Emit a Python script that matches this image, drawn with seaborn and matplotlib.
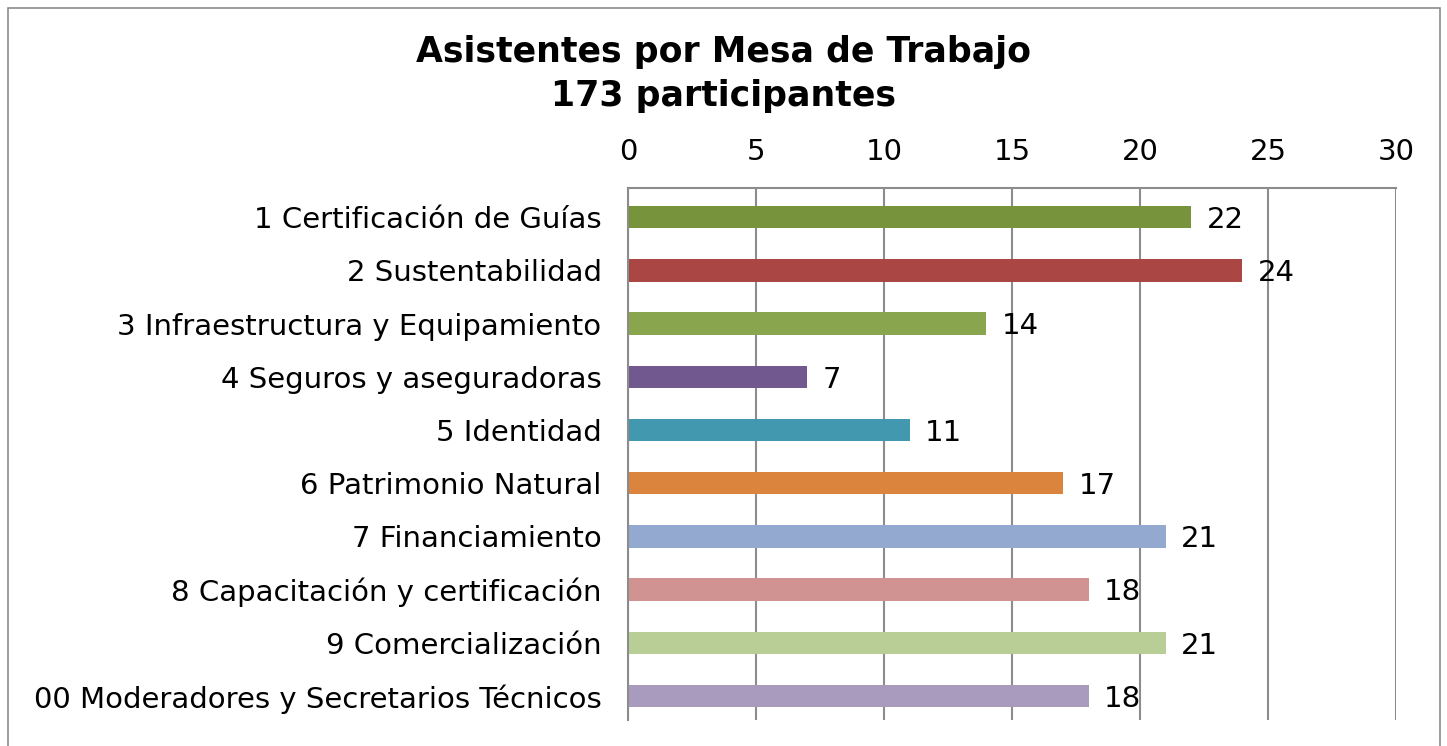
import pandas as pd
import matplotlib.pyplot as plt
import seaborn as sns
from matplotlib.patches import Rectangle

# Data
mesas = [
    "1 Certificación de Guías",
    "2 Sustentabilidad",
    "3 Infraestructura y Equipamiento",
    "4 Seguros y aseguradoras",
    "5 Identidad",
    "6 Patrimonio Natural",
    "7 Financiamiento",
    "8 Capacitación y certificación",
    "9 Comercialización",
    "00 Moderadores y Secretarios Técnicos",
]
asistentes = [22, 24, 14, 7, 11, 17, 21, 18, 21, 18]
colores = ["#77933C", "#AA4644", "#89A54E", "#71588F", "#4198AF",
           "#DB843D", "#93A9CF", "#D19392", "#B9CD96", "#A99BBD"]

df = pd.DataFrame({"mesa": mesas, "asistentes": asistentes})

sns.set_style("white")
plt.rcParams["font.family"] = ["DejaVu Sans"]
plt.rcParams["text.color"] = "black"
plt.rcParams["xtick.color"] = "black"
plt.rcParams["ytick.color"] = "black"

fs = 21

fig = plt.figure(figsize=(14.47, 7.46), dpi=100)
ax = fig.add_axes([628 / 1447, 1 - 720 / 746, 768 / 1447, 532 / 746])

sns.barplot(data=df, x="asistentes", y="mesa", hue="mesa", palette=colores,
            legend=False, width=0.42, saturation=1, linewidth=0, ax=ax)

ax.set_xlim(0, 30)
ax.set_ylim(9.45, -0.55)
ax.set_xticks(range(0, 31, 5))
ax.xaxis.tick_top()
ax.tick_params(axis="x", length=0, pad=16, labelsize=fs)
ax.tick_params(axis="y", length=0, pad=19, labelsize=fs)
ax.set_xlabel("")
ax.set_ylabel("")
ax.grid(axis="x", color="#8c8c8c", linewidth=1.5)
ax.set_axisbelow(True)
for side in ["right", "bottom"]:
    ax.spines[side].set_visible(False)
for side in ["top", "left"]:
    ax.spines[side].set_color("#8c8c8c")
    ax.spines[side].set_linewidth(1.5)

# value labels
for i, v in enumerate(asistentes):
    ax.annotate(str(v), (v, i), xytext=(11, -2), textcoords="offset points",
                va="center", ha="left", fontsize=fs)

fig.text(0.5, 1 - 52 / 746, "Asistentes por Mesa de Trabajo", ha="center",
         va="center", fontsize=25, fontweight="bold")
fig.text(0.5, 1 - 96 / 746, "173 participantes", ha="center",
         va="center", fontsize=25, fontweight="bold")

# outer chart frame
fig.patches.append(Rectangle((8 / 1447, -0.01), 1432 / 1447, 1 - 8 / 746 + 0.01,
                             transform=fig.transFigure, fill=False,
                             edgecolor="#8c8c8c", linewidth=1.2))

fig.savefig("out.png", dpi=100)
